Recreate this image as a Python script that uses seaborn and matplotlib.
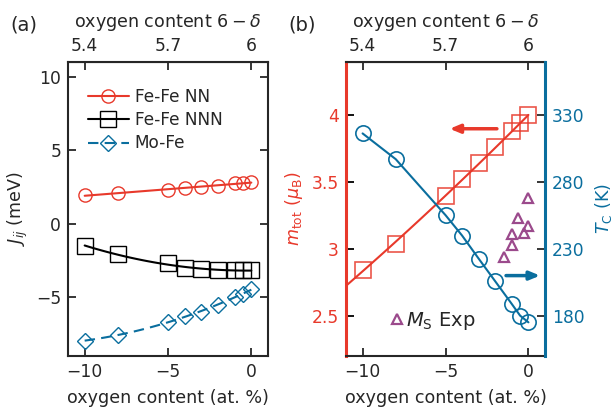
import numpy as np
import matplotlib
matplotlib.use("Agg")
import matplotlib.pyplot as plt
import seaborn as sns
from matplotlib.lines import Line2D

sns.set_style("ticks")
plt.rcParams['font.family'] = ['DejaVu Sans']
plt.rcParams['mathtext.fontset'] = 'dejavusans'

RED = '#e8392b'
BLUE = '#0a6e9e'
PURPLE = '#9b4a8c'

# ---------------- data ----------------
oxy = [-10, -8, -5, -4, -3, -2, -1, -0.5, 0]          # at. %
j_nn = [1.92, 2.08, 2.30, 2.42, 2.49, 2.55, 2.74, 2.78, 2.80]
j_nnn = [-1.54, -2.06, -2.72, -3.01, -3.12, -3.19, -3.19, -3.19, -3.17]
j_mofe = [-7.99, -7.58, -6.68, -6.33, -6.00, -5.57, -5.00, -4.82, -4.44]

m_tot = [2.84, 3.04, 3.40, 3.52, 3.64, 3.76, 3.88, 3.94, 4.00]
t_c = [316.5, 297.2, 255.3, 240.0, 222.7, 205.7, 188.7, 180.0, 175.0]

ms_x = [-0.05, -0.6, -0.05, -1.0, -0.25, -1.0, -1.5]
ms_m = [3.38, 3.23, 3.17, 3.11, 3.12, 3.03, 2.94]

xticks = [-10, -5, 0]
top_ticks = [5.4, 5.7, 6]
top_labels = ['5.4', '5.7', '6']
ja_ticks = [-5, 0, 5, 10]
m_ticks = [2.5, 3, 3.5, 4]
m_labels = ['2.5', '3', '3.5', '4']
t_ticks = [180, 230, 280, 330]

TFS = 12.3   # tick labels
LFS = 12.6   # axis labels

fig = plt.figure(figsize=(6.16, 4.07), dpi=100)
ax_a = fig.add_axes([68/616, 1-355.7/407, 200/616, 293.7/407])
ax_b = fig.add_axes([346/616, 1-355.7/407, 199/616, 293.7/407])

def to_top(x):
    return 6 + 0.06 * np.asarray(x)

def from_top(o):
    return (np.asarray(o) - 6) / 0.06

# ---------------- panel (a) ----------------
ox = np.array(oxy)
series = [
    (j_nn, RED, 'o', 9.5, '-', 1, 'Fe-Fe NN'),
    (j_nnn, 'black', 's', 11, '-', 2, 'Fe-Fe NNN'),
    (j_mofe, BLUE, 'D', 8.5, (0, (5, 3)), 2, 'Mo-Fe'),
]
handles = []
for yv, c, mk, ms, ls, order, lab in series:
    sns.regplot(x=ox, y=np.array(yv), order=order, ci=None, scatter=False,
                ax=ax_a, color=c, line_kws=dict(lw=1.5, ls=ls))
    ax_a.plot(ox, yv, ls='none', marker=mk, ms=ms, mfc='none', mec=c, mew=1.0)
    handles.append(Line2D([], [], color=c, ls=ls, lw=1.5, marker=mk, ms=ms,
                          mfc='none', mec=c, mew=1.0))
ax_a.legend(handles, [s[-1] for s in series], loc='upper left',
            bbox_to_anchor=(0.05, 0.945), frameon=False, fontsize=12.2,
            handlelength=2.4, handletextpad=0.35, labelspacing=0.3,
            borderaxespad=0.2)

ax_a.set_xlim(-11, 1)
ax_a.set_ylim(-9, 11)
ax_a.set_xticks(xticks)
ax_a.set_xticklabels(['\u221210', '\u22125', '0'])
ax_a.set_yticks(ja_ticks)
ax_a.set_yticklabels(['\u22125', '0', '5', '10'])
ax_a.tick_params(direction='in', length=6, width=1.3, labelsize=TFS,
                 right=True, top=False, pad=5)
for s in ax_a.spines.values():
    s.set_linewidth(1.5)
ax_a.set_xlabel('oxygen content (at. %)', fontsize=LFS, labelpad=6)
ax_a.set_ylabel('$J_{ij}$ (meV)', fontsize=LFS, labelpad=4)
sec_a = ax_a.secondary_xaxis('top', functions=(to_top, from_top))
sec_a.set_xticks(top_ticks)
sec_a.set_xticklabels(top_labels)
sec_a.tick_params(direction='in', length=6, width=1.3, labelsize=TFS, pad=5)
sec_a.set_xlabel('oxygen content $6-\\delta$', fontsize=LFS, labelpad=7)

# ---------------- panel (b) ----------------
ax_t = ax_b.twinx()
ax_b.set_xlim(-11, 1)
ax_b.set_ylim(2.2, 4.4)
ax_t.set_ylim(150, 370)

coef_m = np.polyfit(ox, m_tot, 2)
xf = np.linspace(-11, 0, 100)
sns.lineplot(x=xf, y=np.polyval(coef_m, xf), ax=ax_b, color=RED, lw=1.5)
ax_b.plot(ox, m_tot, ls='none', marker='s', ms=11, mfc='none', mec=RED,
          mew=1.2, alpha=0.85)
ax_b.plot(ms_x, ms_m, ls='none', marker='^', ms=6.5, mfc='none', mec=PURPLE, mew=1.6)

sns.lineplot(x=ox, y=t_c, ax=ax_t, color=BLUE, lw=1.5)
ax_t.plot(ox, t_c, ls='none', marker='o', ms=11, mfc='none', mec=BLUE, mew=1.2)

ax_b.annotate('', xy=(-4.75, 3.90), xytext=(-1.9, 3.90),
              arrowprops=dict(arrowstyle='-|>,head_length=0.6,head_width=0.25',
                              color=RED, lw=2.5, shrinkA=0, shrinkB=0))
ax_t.annotate('', xy=(0.7, 210), xytext=(-1.35, 210),
              arrowprops=dict(arrowstyle='-|>,head_length=0.6,head_width=0.25',
                              color=BLUE, lw=2.5, shrinkA=0, shrinkB=0))

ax_b.legend([Line2D([], [], ls='none', marker='^', ms=6.5, mfc='none',
                    mec=PURPLE, mew=1.6)],
            ['$M_\\mathrm{S}$ Exp'], loc='lower left',
            bbox_to_anchor=(0.16, 0.035), frameon=False, fontsize=14,
            handlelength=0.6, handletextpad=0.15, borderpad=0.2)

ax_b.set_xticks(xticks)
ax_b.set_xticklabels(['\u221210', '\u22125', '0'])
ax_b.set_yticks(m_ticks)
ax_b.set_yticklabels(m_labels)
ax_b.tick_params(axis='y', direction='in', length=6, width=1.3, labelsize=TFS,
                 colors='black', pad=5)
ax_b.tick_params(axis='y', labelcolor=RED)
ax_b.tick_params(axis='x', direction='in', length=6, width=1.3, labelsize=TFS, pad=5)
ax_t.set_yticks(t_ticks)
ax_t.tick_params(axis='y', direction='in', length=6, width=1.3, labelsize=TFS,
                 labelcolor=BLUE, pad=5)
for s in ['top', 'bottom']:
    ax_b.spines[s].set_linewidth(1.5)
ax_b.spines['left'].set_color(RED)
ax_b.spines['left'].set_linewidth(2.2)
ax_b.spines['right'].set_visible(False)
ax_t.spines['left'].set_visible(False)
ax_t.spines['top'].set_visible(False)
ax_t.spines['bottom'].set_visible(False)
ax_t.spines['right'].set_color(BLUE)
ax_t.spines['right'].set_linewidth(2.2)
ax_b.set_xlabel('oxygen content (at. %)', fontsize=LFS, labelpad=6)
ax_b.set_ylabel('$m_\\mathrm{tot}$ ($\\mu_\\mathrm{B}$)', fontsize=LFS,
                color=RED, labelpad=5)
ax_t.set_ylabel('$T_\\mathrm{C}$ (K)', fontsize=LFS, color=BLUE, labelpad=6)
sec_b = ax_b.secondary_xaxis('top', functions=(to_top, from_top))
sec_b.set_xticks(top_ticks)
sec_b.set_xticklabels(top_labels)
sec_b.tick_params(direction='in', length=6, width=1.3, labelsize=TFS, pad=5)
sec_b.set_xlabel('oxygen content $6-\\delta$', fontsize=LFS, labelpad=7)

fig.text(24/616, 1-25/407, '(a)', fontsize=14, ha='center', va='center')
fig.text(302/616, 1-25/407, '(b)', fontsize=14, ha='center', va='center')

fig.savefig('out.png', dpi=100)
